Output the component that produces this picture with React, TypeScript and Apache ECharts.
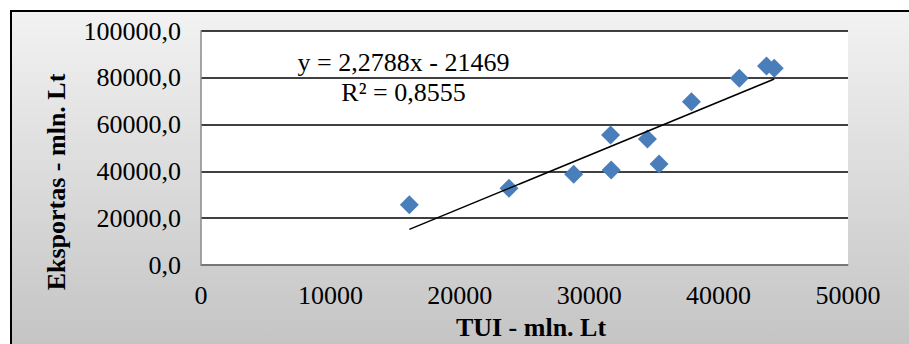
import React, { useEffect, useRef } from "react";
import * as echarts from "echarts";

// TUI (mln. Lt) on the x axis, export (mln. Lt) on the y axis
const tuiValues = [16100, 23800, 28800, 31650, 31700, 34500, 35400, 37900, 41600, 43700, 44300];
const exportValues = [25800, 32800, 38800, 55600, 40600, 53800, 43200, 69800, 79800, 85000, 84100];

// Trendline as printed on the chart
const trendSlope = 2.2788;
const trendIntercept = -21469;
const equationLabel = "y = 2,2788x - 21469";
const r2Label = "R² = 0,8555";

const xAxisTitle = "TUI - mln. Lt";
const yAxisTitle = "Eksportas - mln. Lt";

const FONT = "'Liberation Serif', 'Times New Roman', serif";

export default function App() {
  const ref = useRef<HTMLDivElement>(null);

  useEffect(() => {
    if (!ref.current) return;
    const chart = echarts.init(ref.current, null, { renderer: "svg" });

    const points = tuiValues.map((x, i) => [x, exportValues[i]]);
    const xMin = Math.min(...tuiValues);
    const xMax = Math.max(...tuiValues);
    const trend = [
      [xMin, trendSlope * xMin + trendIntercept],
      [xMax, trendSlope * xMax + trendIntercept],
    ];

    chart.setOption({
      animation: false,
      backgroundColor: "transparent",
      grid: {
        show: true,
        left: 189,
        top: 19,
        width: 647,
        height: 234,
        backgroundColor: "#ffffff",
        borderWidth: 0,
        containLabel: false,
      },
      xAxis: {
        type: "value",
        min: 0,
        max: 50000,
        interval: 10000,
        axisLine: { show: true, lineStyle: { color: "#8a8a8a", width: 1.5 } },
        axisTick: { show: false },
        splitLine: { show: false },
        axisLabel: {
          fontFamily: FONT,
          fontSize: 26,
          color: "#000",
          margin: 17,
          formatter: (v: number) => String(v),
        },
      },
      yAxis: {
        type: "value",
        min: 0,
        max: 100000,
        interval: 20000,
        axisLine: { show: true, lineStyle: { color: "#8a8a8a", width: 1.5 } },
        axisTick: { show: false },
        splitLine: { show: true, lineStyle: { color: "#000", width: 1.5 } },
        axisLabel: {
          fontFamily: FONT,
          fontSize: 26,
          color: "#000",
          margin: 20,
          formatter: (v: number) => v.toFixed(1).replace(".", ","),
        },
      },
      series: [
        {
          type: "scatter",
          data: points,
          symbol: "diamond",
          symbolSize: 19,
          itemStyle: { color: "#4A7EBB", opacity: 1 },
          z: 2,
        },
        {
          type: "line",
          data: trend,
          showSymbol: false,
          symbol: "none",
          lineStyle: { color: "#000", width: 1.5 },
          z: 3,
        },
      ],
      graphic: [
        {
          type: "text",
          x: 391.5,
          y: 50,
          style: {
            text: equationLabel,
            font: `26px ${FONT}`,
            fill: "#000",
            align: "center",
            verticalAlign: "middle",
          },
          z: 10,
        },
        {
          type: "text",
          x: 391.5,
          y: 80,
          style: {
            text: r2Label,
            font: `26px ${FONT}`,
            fill: "#000",
            align: "center",
            verticalAlign: "middle",
          },
          z: 10,
        },
        {
          type: "text",
          x: 519,
          y: 315,
          style: {
            text: xAxisTitle,
            font: `bold 26px ${FONT}`,
            fill: "#000",
            align: "center",
            verticalAlign: "middle",
          },
        },
        {
          type: "text",
          x: 44.5,
          y: 170,
          rotation: Math.PI / 2,
          style: {
            text: yAxisTitle,
            font: `bold 26px ${FONT}`,
            fill: "#000",
            align: "center",
            verticalAlign: "middle",
          },
        },
      ],
    });

    return () => chart.dispose();
  }, []);

  return (
    <div
      ref={ref}
      style={{
        position: "fixed",
        left: 10,
        top: 10,
        width: 920,
        height: 350,
        border: "2px solid #000",
        background: "linear-gradient(to bottom, #f2f2f2 0%, #c2c2c2 100%)",
      }}
    />
  );
}
